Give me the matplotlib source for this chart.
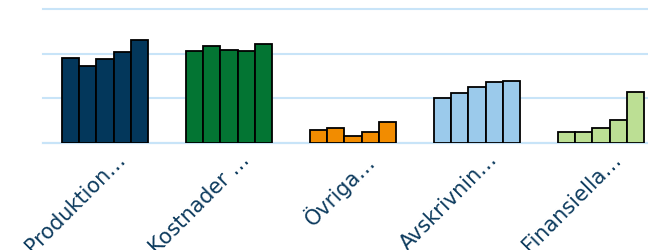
import matplotlib
matplotlib.use("Agg")
import matplotlib.pyplot as plt
import matplotlib.transforms as mtransforms
import numpy as np

categories = ["Produktion…", "Kostnader …", "Övriga…", "Avskrivnin…", "Finansiella…"]
year1 = [1.91, 2.05, 0.29, 1.01, 0.25]
year2 = [1.73, 2.17, 0.34, 1.13, 0.25]
year3 = [1.89, 2.09, 0.15, 1.26, 0.34]
year4 = [2.04, 2.06, 0.25, 1.36, 0.52]
year5 = [2.31, 2.21, 0.46, 1.38, 1.14]
series = [year1, year2, year3, year4, year5]
colors = ["#03375b", "#037533", "#f28c00", "#9bcaeb", "#bcdf94"]

fig = plt.figure(figsize=(6.48, 2.51), dpi=100)
ax = fig.add_axes([43/648, 1-144/251, 620/648, 134/251])

n = len(series)
group_w = 0.70
bw = group_w / n
x = np.arange(len(categories))
for i, vals in enumerate(series):
    ax.bar(x - group_w/2 + bw*(i+0.5), vals, width=bw, color=colors,
           edgecolor="black", linewidth=1.3, zorder=3)

ax.set_xlim(-0.5, 4.5)
ax.set_ylim(0, 3)
ax.set_yticks([0, 1, 2, 3])
ax.yaxis.grid(True, color="#c8e4f8", linewidth=1.5, zorder=0)
for gl in ax.get_ygridlines():
    gl.set_clip_on(False)
ax.tick_params(axis="y", left=False, labelleft=False)
ax.tick_params(axis="x", length=0, pad=4)
for s in ["top", "right", "left"]:
    ax.spines[s].set_visible(False)
ax.spines["bottom"].set_color("#c8e4f8")
ax.spines["bottom"].set_linewidth(1.5)
ax.set_xticks(x)
ax.set_xticklabels(categories, rotation=45, ha="right", rotation_mode="anchor",
                   color="#0d3b5e", fontsize=15, family="DejaVu Sans")
offset = mtransforms.ScaledTranslation(10/100, 0, fig.dpi_scale_trans)
for lab in ax.get_xticklabels():
    lab.set_transform(lab.get_transform() + offset)

fig.savefig("out.png", dpi=100)
